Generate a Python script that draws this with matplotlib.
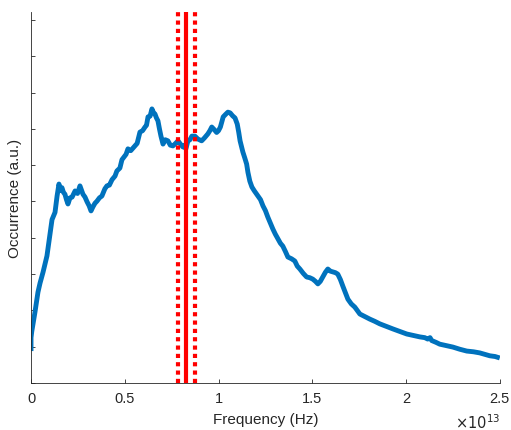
import matplotlib
matplotlib.use("Agg")
import matplotlib.pyplot as plt

# Frequency in units of 1e13 Hz, occurrence in arbitrary units
freq = [0.0, 0.0, 0.004, 0.021, 0.037, 0.048, 0.064, 0.085, 0.10, 0.112, 0.128,
        0.139, 0.149, 0.157, 0.165, 0.173, 0.181, 0.189, 0.197, 0.208, 0.219,
        0.235, 0.248, 0.261, 0.277, 0.288, 0.299, 0.31, 0.32, 0.33, 0.341,
        0.352, 0.365, 0.378, 0.394, 0.405, 0.418, 0.432, 0.448, 0.458, 0.474,
        0.485, 0.495, 0.507, 0.517, 0.532, 0.554, 0.566, 0.581, 0.595, 0.608,
        0.616, 0.624, 0.635, 0.645, 0.653, 0.661, 0.669, 0.677, 0.685, 0.693,
        0.704, 0.716, 0.73, 0.743, 0.757, 0.771, 0.784, 0.797, 0.81, 0.818,
        0.826, 0.837, 0.848, 0.858, 0.874, 0.89, 0.91, 0.925, 0.943, 0.954,
        0.964, 0.977, 0.99, 1.0, 1.01, 1.018, 1.025, 1.038, 1.05, 1.062,
        1.075, 1.088, 1.10, 1.108, 1.115, 1.123, 1.13, 1.14, 1.15, 1.157,
        1.167, 1.178, 1.19, 1.21, 1.224, 1.237, 1.25, 1.263, 1.277, 1.29,
        1.303, 1.317, 1.33, 1.343, 1.357, 1.37, 1.39, 1.407, 1.42, 1.434,
        1.452, 1.47, 1.487, 1.503, 1.517, 1.53, 1.543, 1.556, 1.57, 1.583,
        1.597, 1.61, 1.623, 1.636, 1.65, 1.663, 1.676, 1.69, 1.708, 1.727,
        1.74, 1.754, 1.78, 1.807, 1.833, 1.86, 1.895, 1.93, 1.967, 2.004,
        2.04, 2.074, 2.10, 2.116, 2.128, 2.137, 2.16, 2.18, 2.215, 2.25,
        2.287, 2.324, 2.36, 2.393, 2.42, 2.447, 2.475, 2.50]
occurrence = [0.88, 1.25, 1.42, 1.95, 2.5, 2.75, 3.05, 3.5, 4.05, 4.5, 4.7,
              5.15, 5.48, 5.3, 5.38, 5.25, 5.2, 5.05, 4.93, 5.1, 5.12,
              5.29, 5.22, 5.43, 5.2, 5.12, 4.99, 4.88, 4.74, 4.85, 4.95,
              5.01, 5.1, 5.15, 5.35, 5.43, 5.45, 5.6, 5.7, 5.84, 5.92,
              6.15, 6.22, 6.3, 6.45, 6.4, 6.53, 6.6, 6.91, 6.95, 7.05,
              7.1, 7.33, 7.35, 7.55, 7.45, 7.41, 7.3, 7.22, 7.0, 6.8,
              6.58, 6.7, 6.67, 6.55, 6.53, 6.6, 6.67, 6.58, 6.5, 6.55,
              6.45, 6.67, 6.7, 6.8, 6.8, 6.72, 6.67, 6.75, 6.86, 6.95,
              7.05, 6.98, 6.9, 6.95, 7.05, 7.2, 7.33, 7.4, 7.46, 7.44,
              7.36, 7.3, 7.13, 6.9, 6.67, 6.5, 6.36, 6.2, 6.03, 5.8,
              5.56, 5.4, 5.3, 5.15, 5.05, 4.88, 4.75, 4.57, 4.4, 4.24,
              4.1, 3.97, 3.85, 3.77, 3.62, 3.47, 3.42, 3.36, 3.22, 3.14,
              3.02, 2.92, 2.9, 2.86, 2.8, 2.73, 2.8, 2.92, 3.05, 3.14,
              3.08, 3.06, 3.04, 3.0, 2.85, 2.67, 2.5, 2.31, 2.18, 2.09,
              2.0, 1.9, 1.83, 1.76, 1.7, 1.63, 1.56, 1.49, 1.42, 1.35,
              1.31, 1.27, 1.25, 1.21, 1.25, 1.17, 1.12, 1.07, 1.03, 0.99,
              0.93, 0.88, 0.86, 0.83, 0.79, 0.75, 0.73, 0.69]

# Reference frequency and its bounds (1e13 Hz)
f_center = 0.826
f_bounds = [0.785, 0.874]

plt.rcParams["font.family"] = ["Liberation Sans", "DejaVu Sans"]

W, H = 511, 431
fig = plt.figure(figsize=(W / 100, H / 100), dpi=100)
ax = fig.add_axes([0.0607, 0.109, 0.9173, 0.861])

ax.plot(freq, occurrence, color="#0072BD", lw=3.5, solid_joinstyle="round",
        solid_capstyle="butt", zorder=2)

ax.axvline(f_center, color="#FF0000", lw=3.0, zorder=3)
for fb in f_bounds:
    ax.axvline(fb, color="#FF0000", lw=3.0, linestyle=(0, (1.0, 1.0)),
               dash_capstyle="butt", zorder=3)

ax.set_xlim(0, 2.5)
ax.set_ylim(0, 10.22)
ax.set_xticks([0, 0.5, 1, 1.5, 2, 2.5])
ax.set_xticklabels(["0", "0.5", "1", "1.5", "2", "2.5"])
ax.set_yticks(range(0, 11))
ax.set_yticklabels([])

for side in ("top", "right"):
    ax.spines[side].set_visible(False)
for side in ("left", "bottom"):
    ax.spines[side].set_color("#262626")
    ax.spines[side].set_linewidth(0.6)

ax.tick_params(direction="in", length=3, width=0.6, color="#262626",
               labelsize=10.5, labelcolor="#262626", pad=6)

ax.set_xlabel("Frequency (Hz)", fontsize=11, color="#262626", labelpad=5)
ax.set_ylabel("Occurrence (a.u.)", fontsize=11, color="#262626")
ax.yaxis.set_label_coords(-0.02, 0.5)

# Axis multiplier placed under the right end of the x axis
fig.text(500 / W, 1 - 429 / H, r"$\times10^{13}$", ha="right",
         va="baseline", fontsize=10.5, color="#262626")

fig.savefig("out.png", dpi=100)
